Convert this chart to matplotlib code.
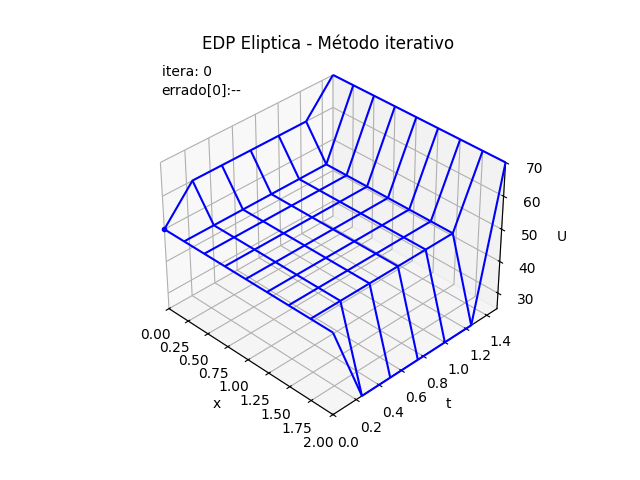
import numpy as np
import matplotlib
matplotlib.use('Agg')
import matplotlib.pyplot as plt

x = np.linspace(0, 2, 9)
t = np.linspace(0, 1.5, 7)
u_inner = 50.0
u_x0 = 60.0      # borda x = 0
u_x2 = 25.0      # borda x = 2
u_t0 = 50.0      # borda t = 0
u_tmax = 70.0    # borda t = tmax

X, T = np.meshgrid(x, t)
U = np.full(X.shape, u_inner)
U[:, 0] = u_x0
U[:, -1] = u_x2
U[0, :] = u_t0
U[-1, :] = u_tmax

fig = plt.figure(figsize=(6.4, 4.8), dpi=100)
ax = fig.add_subplot(111, projection='3d')
ax.plot_wireframe(X, T, U, color='blue')
ax.plot([x[0]], [t[0]], [U[0, 0]], 'o', color='blue', markersize=3)
ax.set_xlabel('x')
ax.set_ylabel('t')
ax.set_zlabel('U')
ax.set_xlim(0, 2)
ax.set_ylim(0, 1.5)
ax.set_zlim(25, 70)
ax.set_xticks(np.arange(0, 2.01, 0.25))
ax.set_yticks(np.arange(0, 1.41, 0.2))
ax.set_zticks([30, 40, 50, 60, 70])
ax.set_title('EDP Eliptica - Método iterativo')
ax.text2D(0.05, 0.95, 'itera: 0', transform=ax.transAxes)
ax.text2D(0.05, 0.90, 'errado[0]:--', transform=ax.transAxes)
ax.view_init(elev=35, azim=-45)
plt.savefig('out.png')
